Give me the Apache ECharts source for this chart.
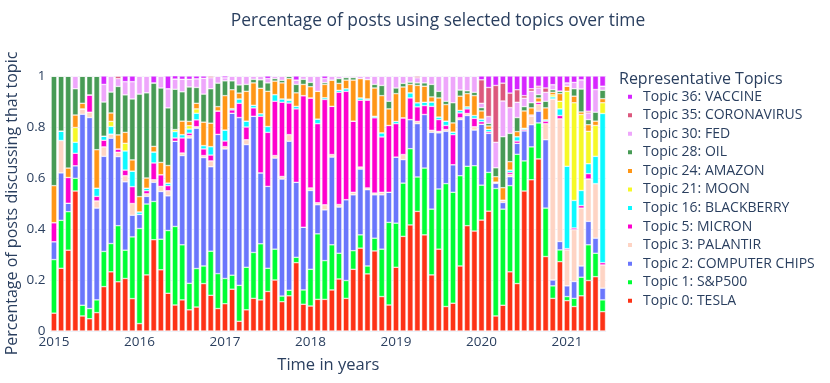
<!DOCTYPE html>
<html><head><meta charset="utf-8">
<script src="https://cdn.jsdelivr.net/npm/echarts@6/dist/echarts.min.js"></script>
<style>html,body{margin:0;padding:0;background:#fff}#c{width:830px;height:383px}</style>
</head><body><div id="c"></div>
<script>
// Months Jan 2015 .. Jun 2021 (78 bars)
const months = [];
for (let y = 2015; y <= 2021; y++) for (let m = 1; m <= 12; m++) { if (y === 2021 && m > 6) break; months.push(y + '-' + (m < 10 ? '0' + m : m)); }

const yTicks = [0, 0.2, 0.4, 0.6, 0.8, 1];

const tesla = [.07,.246,.317,.549,.059,.048,.072,.174,.232,.193,.206,.127,.029,.22,.358,.24,.148,.102,.122,.083,.094,.186,.14,.088,.107,.164,.038,.083,.128,.122,.155,.2,.115,.138,.268,.105,.098,.124,.124,.161,.204,.128,.242,.325,.224,.314,.135,.102,.25,.371,.416,.469,.377,.22,.321,.096,.109,.255,.413,.392,.435,.47,.059,.101,.232,.186,.549,.593,.675,.292,.128,.272,.119,.096,.138,.198,.213,.076];
const sp500 = [.21,.188,.151,.05,.042,.04,.05,.138,.111,.22,.111,.242,.373,.278,.15,.12,.246,.308,.216,.104,.151,.069,.173,.137,.099,.055,.141,.167,.18,.22,.091,.121,.022,.022,.021,.056,.144,.257,.152,.177,.101,.07,.073,.052,.031,.05,.186,.324,.173,.209,.299,.135,.262,.258,.236,.482,.435,.354,.233,.256,.137,.152,.5,.377,.338,.507,.118,.129,.141,.19,.049,.046,.016,.032,.073,.14,.092,.046];
const chips = [.07,.186,.033,.049,.749,.749,.36,.373,.413,.271,.268,.085,.055,.03,.075,.187,.136,.334,.35,.57,.55,.425,.331,.546,.508,.635,.658,.481,.534,.278,.321,.357,.459,.584,.294,.246,.309,.114,.199,.344,.181,.317,.219,.258,.299,.17,.213,.118,.259,.092,.114,.209,.21,.301,.22,.205,.108,.22,.199,.14,.239,.153,.02,.026,.035,.043,.118,.087,.046,.268,.023,.033,.042,.066,.044,.092,.059,.046];
const palantir = [0,.127,0,0,.021,.021,.028,.037,.016,.017,.024,.046,0,.01,.01,.02,.02,0,.01,.009,.006,.008,.023,0,.009,0,0,.019,0,0,0,.01,.01,.026,0,0,.01,.008,.02,.01,.01,0,.01,.008,.007,.007,.01,0,0,.02,0,.009,0,.008,.006,.007,0,.007,.008,.013,0,0,.005,.009,.009,0,0,.033,.026,.063,.71,.481,.141,.203,.227,.166,.214,.091];
const micron = [.075,0,.101,.049,0,.068,.018,.026,0,.013,.022,.066,0,.012,.066,.046,.02,.013,.059,.01,.027,.026,.023,.092,.022,.013,.056,.05,.033,.222,.212,.213,.291,.124,.288,.516,.353,.31,.413,.189,.44,.425,.279,.262,.344,.295,.217,.262,.131,.144,.085,.057,.035,.094,.046,.016,.118,.019,.018,.033,.01,.006,0,0,.008,.009,.005,.005,.01,.01,0,.013,.005,.007,.01,.021,0,.009];
const blackberry = [0,.037,0,.043,0,0,.032,.016,.03,0,.075,.061,.01,.01,.043,0,.01,.025,.013,.016,.026,.013,.033,0,.043,.005,.017,.023,.01,.01,.023,.026,.013,.01,.01,0,0,.018,.007,0,.008,.01,0,.009,.005,.006,.016,0,.009,0,.02,.016,.013,.017,.01,.017,.01,.01,.008,.011,.01,.01,0,0,.009,.017,.005,0,0,.005,.008,.026,.323,.108,.059,.039,.107,.585];
const moon = [0,0,0,.058,0,0,0,0,.02,0,.03,0,0,0,0,0,0,.008,0,.013,.017,0,0,0,0,0,0,0,0,0,0,0,0,.005,0,0,0,0,0,0,0,0,0,0,0,0,0,0,0,0,0,0,0,0,0,0,0,0,0,0,0,0,0,0,0,0,0,0,0,0,.008,.03,.294,.383,.298,.127,.121,.042];
const amazon = [.145,0,.037,.049,.022,0,.151,0,.033,.055,.043,.044,.06,.04,.022,.048,.069,0,.053,.017,.022,.092,.092,.017,.135,.074,.023,.117,.088,.1,.138,.053,.063,.081,.053,.044,.044,.109,.052,.103,.027,.034,.161,.076,.076,.111,.146,.065,.109,.121,.033,.068,.063,.02,.075,.065,.036,.056,.052,.078,.032,.013,.021,.049,.033,.02,.068,.028,.016,.047,.01,.03,.02,.026,.01,.026,.017,.016];
const oil = [.43,.216,.361,.103,.107,.074,.289,.134,.082,.19,.147,.239,.402,.334,.249,.292,.226,.158,.115,.135,.062,.11,.135,.092,.058,.035,.032,.027,.014,.033,.033,.01,.01,.01,.033,.02,.017,0,.007,0,.019,.01,.01,0,0,.014,.04,.03,.022,.014,.009,.01,.013,.049,.026,.013,.079,.024,.011,.013,.013,.01,.035,.2,.111,.055,.017,.02,.013,.026,.01,.01,0,.029,.09,.02,.035,.033];
const fed = [0,0,0,.05,0,0,0,.069,.063,.031,.052,.068,.071,.066,0,.047,.075,.04,.049,.03,.034,.062,.043,.028,.012,.019,.035,.033,.013,.015,.017,.01,.017,0,.017,.013,.025,.06,.016,.016,.01,.006,.006,.01,.014,.033,.037,.099,.047,.029,.024,.02,.027,.033,.06,.099,.105,.055,.058,.064,.017,.027,.1,.14,.101,.06,.033,.045,.026,.035,.02,0,.013,.025,.036,.026,.089,.016];
const corona = [0,0,0,0,0,0,0,0,0,.01,0,0,0,0,0,0,0,0,0,0,0,0,.007,0,0,0,0,0,0,0,0,0,0,0,0,0,0,0,0,0,0,0,0,0,0,0,0,0,0,0,0,.007,0,0,0,0,0,0,0,0,.092,.114,.223,.07,.057,.049,.01,.01,.007,.017,0,0,0,0,0,.007,0,0];
const vaccine = [0,0,0,0,0,0,0,.033,0,0,.022,.022,0,0,.027,0,.05,.013,.013,.013,.011,.009,0,0,.007,0,0,0,0,0,.01,0,0,0,.016,0,0,0,.01,0,0,0,0,0,0,0,0,0,0,0,0,0,0,0,0,0,0,0,0,0,.015,.045,.037,.028,.067,.054,.077,.05,.04,.047,.034,.059,.027,.025,.015,.138,.053,.04];

const topicNames = ['Topic 0: TESLA','Topic 1: S&P500','Topic 2: COMPUTER CHIPS','Topic 3: PALANTIR','Topic 5: MICRON','Topic 16: BLACKBERRY','Topic 21: MOON','Topic 24: AMAZON','Topic 28: OIL','Topic 30: FED','Topic 35: CORONAVIRUS','Topic 36: VACCINE'];
const topicData = [tesla, sp500, chips, palantir, micron, blackberry, moon, amazon, oil, fed, corona, vaccine];
const colors = ['#FD3216','#00FE35','#6A76FC','#FED4C4','#FE00CE','#0DF9FF','#F6F926','#FF9616','#479B55','#EEA6FB','#DC587D','#D626FF'];

const txt = '#2a3f5f';
const font = '"Open Sans", "Noto Sans", sans-serif';
const chart = echarts.init(document.getElementById('c'), null, {renderer: 'canvas'});
chart.setOption({
  animation: false,
  backgroundColor: '#fff',
  color: colors,
  textStyle: {fontFamily: font, color: txt},
  title: {
    text: 'Percentage of posts using selected topics over time',
    left: 438, top: 13, textAlign: 'center', padding: 0,
    textStyle: {fontFamily: font, fontSize: 17.4, fontWeight: 'normal', color: txt}
  },
  graphic: [{
    type: 'text', x: 619, y: 79.5,
    style: {text: 'Representative Topics', font: '16px ' + font, fill: txt, verticalAlign: 'middle'}
  }],
  legend: {
    orient: 'vertical', left: 626, top: 89.7, padding: 0,
    icon: 'rect', itemWidth: 6, itemHeight: 6, itemGap: 4.55,
    data: topicNames.slice().reverse(),
    textStyle: {fontFamily: font, fontSize: 14, color: txt, lineHeight: 14, padding: [0,0,0,5]}
  },
  grid: {left: 50.4, right: 223.8, top: 76, bottom: 52, containLabel: false, outerBoundsMode: 'none'},
  xAxis: {
    type: 'category', data: months,
    axisLine: {show: false}, axisTick: {show: false},
    axisLabel: {interval: 11, formatter: v => v.slice(0, 4), color: txt, fontSize: 13.5, margin: 4},
    name: 'Time in years', nameLocation: 'middle', nameGap: 26, nameMoveOverlap: false,
    nameTextStyle: {fontSize: 16.5, color: txt}
  },
  yAxis: {
    type: 'value', min: 0, max: 1, interval: 0.2,
    axisLabel: {color: txt, fontSize: 13.5, margin: 5, formatter: v => String(+v.toFixed(1))},
    splitLine: {lineStyle: {color: '#EBF0F8', width: 1}},
    name: 'Percentage of posts discussing that topic', nameLocation: 'middle', nameGap: 29.5, nameRotate: 90,
    nameMoveOverlap: false,
    nameTextStyle: {fontSize: 16, color: txt}
  },
  series: topicNames.map((n, i) => ({
    name: n, type: 'bar', stack: 'all', data: topicData[i],
    barCategoryGap: '20%',
    itemStyle: {color: colors[i], borderColor: '#fff', borderWidth: 0.5}
  }))
});
</script></body></html>
